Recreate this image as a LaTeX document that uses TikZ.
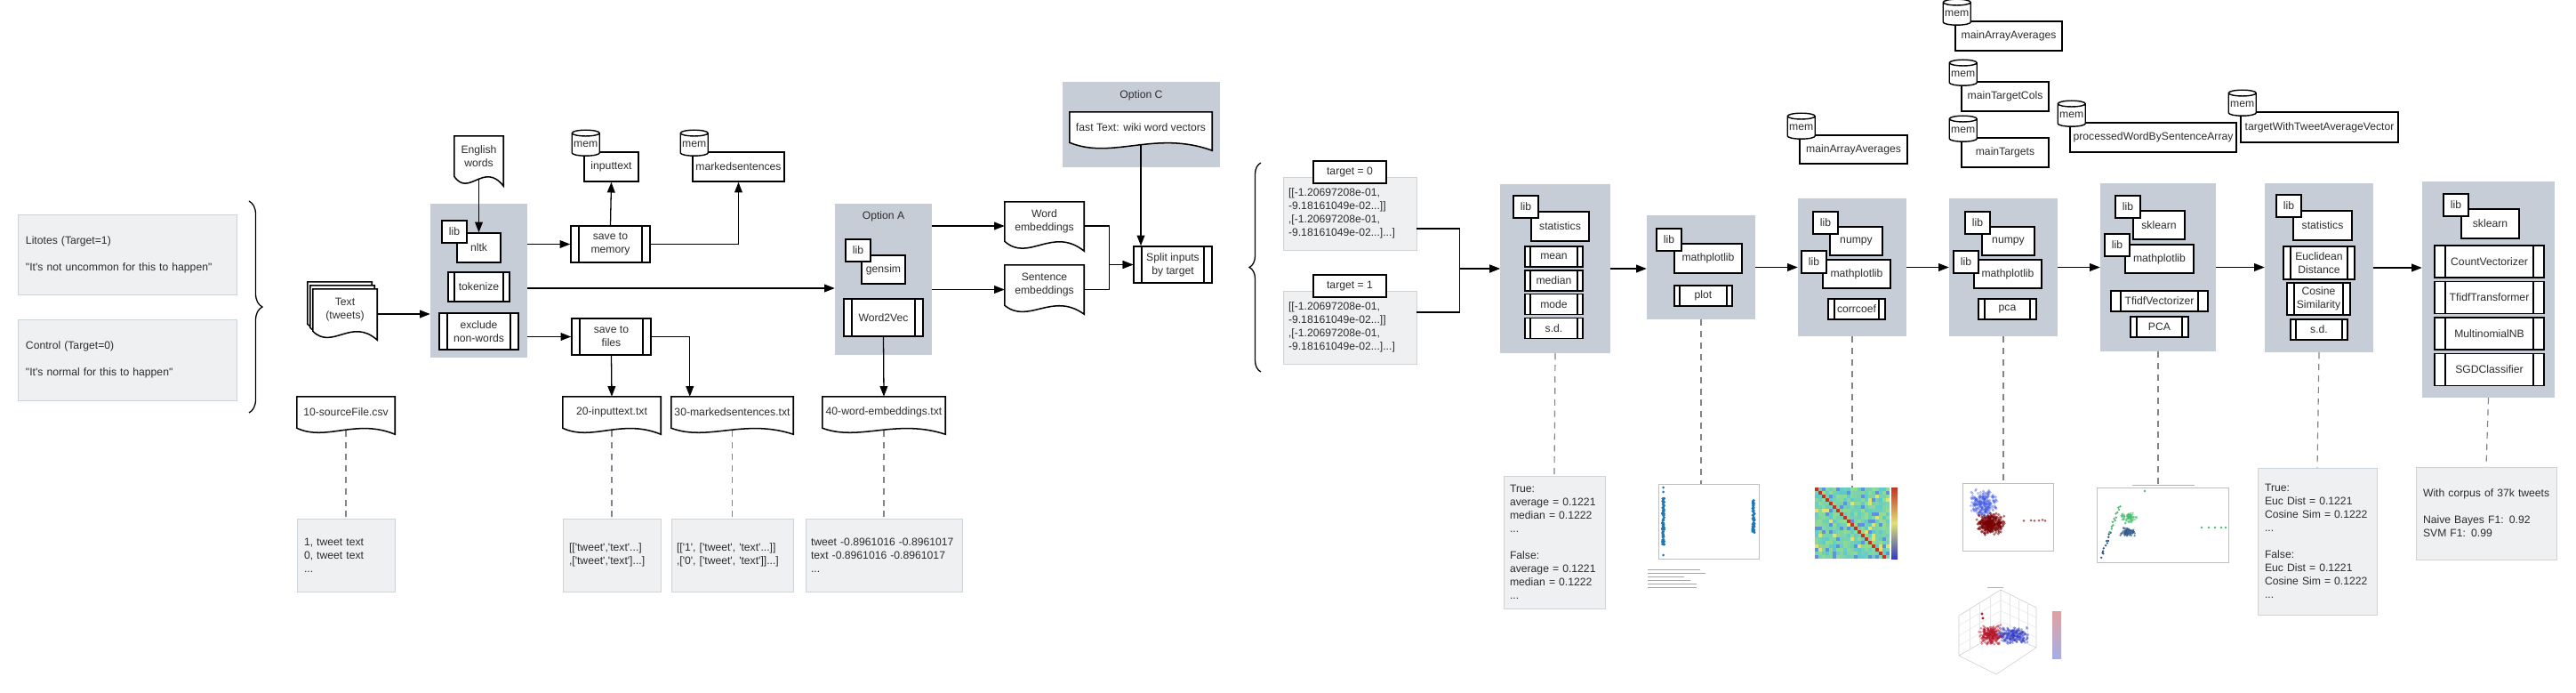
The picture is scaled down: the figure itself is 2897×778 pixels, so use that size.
\documentclass[tikz,border=0pt]{standalone}
\usepackage{fontspec}
\setmainfont{Liberation Sans}[Ligatures=TeXOff]
\usepackage{tikz}
\usetikzlibrary{shapes.geometric, arrows.meta, positioning, calc, decorations.pathreplacing}
\definecolor{grpgray}{RGB}{199,205,214}
\definecolor{notefill}{RGB}{239,240,242}
\definecolor{noteline}{RGB}{205,211,219}
\definecolor{txtgray}{RGB}{45,45,45}
\definecolor{dashgray}{RGB}{128,132,140}
\definecolor{ptblue}{RGB}{31,119,180}
\definecolor{ptblue2}{RGB}{55,80,225}
\definecolor{ptred}{RGB}{120,0,0}
\definecolor{ptred3}{RGB}{180,20,40}
\definecolor{ptblue3}{RGB}{50,60,200}
\definecolor{ptgreen}{RGB}{70,190,110}
\definecolor{ptsteel}{RGB}{50,90,140}
\definecolor{hmcyan}{RGB}{90,200,210}
\definecolor{hmgreen}{RGB}{150,220,140}
\definecolor{hmyellow}{RGB}{225,225,110}
\definecolor{hmblue}{RGB}{95,145,225}
\definecolor{hmred}{RGB}{200,50,30}
\definecolor{cbred}{RGB}{225,160,160}
\definecolor{cbblue}{RGB}{165,175,230}
\newcommand{\diafont}{\fontsize{10.4pt}{12.8pt}\selectfont}
% document outline with a wavy bottom below the node
\newcommand{\docedge}[2]{%
  \fill[white] (#1.south west) -- (#1.south east) -- ($(#1.south east)+(0,#2)$)
    .. controls ($(#1.south west)!0.6!(#1.south east)+(0,-1.6*#2)$) and ($(#1.south west)!0.3!(#1.south east)+(0,2.2*#2)$) .. (#1.south west) -- cycle;
  \draw[docline] (#1.south west) -- (#1.north west) -- (#1.north east) -- ($(#1.south east)+(0,#2)$)
    .. controls ($(#1.south west)!0.6!(#1.south east)+(0,-1.6*#2)$) and ($(#1.south west)!0.3!(#1.south east)+(0,2.2*#2)$) .. cycle;
}

\begin{document}
\begin{tikzpicture}[x=0.03cm, y=-0.03cm,
    every node/.style={font=\diafont, text=txtgray, inner sep=0pt},
    sz/.style 2 args={minimum width=#1*0.03cm, minimum height=#2*0.03cm},
    grp/.style={rectangle, fill=grpgray},
    box/.style={rectangle, draw=black, fill=white, line width=1.3pt, align=center},
    subproc/.style={box, path picture={
        \draw[line width=1.3pt] ([xshift=#1]path picture bounding box.north west) -- ([xshift=#1]path picture bounding box.south west)
            ([xshift=-#1]path picture bounding box.north east) -- ([xshift=-#1]path picture bounding box.south east);}},
    subproc/.default=0.27cm,
    libtag/.style={box, sz={28}{25}, anchor=north west},
    memtag/.style={cylinder, shape border rotate=90, aspect=0.25, draw=black, fill=white, line width=1.2pt, sz={31}{29}},
    docbox/.style={rectangle, fill=white, align=center},
    docline/.style={line width=1.3pt, draw=black},
    note/.style={rectangle, fill=notefill, draw=noteline, line width=0.8pt, align=left},
    imgframe/.style={rectangle, draw=black!25, fill=white, line width=0.6pt},
    arrow/.style={line width=1.1pt, -{Triangle[length=10pt, width=7.5pt]}},
    dashlink/.style={draw=dashgray, line width=1pt, dash pattern=on 6pt off 5pt},
    curly/.style={decorate, decoration={brace, amplitude=#1}, line width=1.1pt}
]
    \useasboundingbox (0,0) rectangle (2897,778);
    \fill[white] (0,0) rectangle (2897,778);
    \pgfmathsetseed{7}

    % Groups
    \node[grp, sz={109}{173}] (nltkgrp) at (538.5,315.5) {};
    \node[grp, sz={109}{170}] (optA) at (993.5,314) {};
    \node[grp, sz={177}{96}] (optC) at (1283.5,140) {};
    \node[grp, sz={124}{190}] (statsgrp) at (1749,302) {};
    \node[grp, sz={122}{117}] (plotgrp) at (1913,300.5) {};
    \node[grp, sz={122}{155}] (corrgrp) at (2083,300.5) {};
    \node[grp, sz={122}{155}] (pcagrp) at (2253,300.5) {};
    \node[grp, sz={130}{189}] (tfidfgrp) at (2427,300.5) {};
    \node[grp, sz={122}{190}] (stats2grp) at (2608,301) {};
    \node[grp, sz={149}{243}] (sklgrp) at (2798.5,325.5) {};
    \node (optAtitle) at (993.5,243) {Option A};
    \node (optCtitle) at (1283.5,107) {Option C};

    % Input
    \node[note, text width=6.84cm, inner xsep=0.27cm, minimum height=2.7cm] (litotes) at (143,286) {Litotes (Target=1)\\[12.8pt]"It's not uncommon for this to happen"};
    \node[note, text width=6.84cm, inner xsep=0.27cm, minimum height=2.73cm] (control) at (143,404.5) {Control (Target=0)\\[12.8pt]"It's normal for this to happen"};
    \draw[curly=0.45cm] (280,226) -- (280,464);

    \node[docbox, sz={72}{47}] (tweetsC) at (382,340.5) {};
    \docedge{tweetsC}{10}
    \node[docbox, sz={72}{47}] (tweetsB) at (385,344.5) {};
    \docedge{tweetsB}{10}
    \node[docbox, sz={72}{47}] (tweets) at (388,348.5) {Text\\(tweets)};
    \docedge{tweets}{10}
    \node[docbox, sz={110}{35}] (csv) at (389,463.5) {10-sourceFile.csv};
    \docedge{csv}{7}
    \node[note, text width=2.82cm, inner xsep=0.24cm, minimum height=2.46cm] (csvnote) at (389,624) {1, tweet text\\0, tweet text\\...};

    % nltk
    \node[docbox, sz={55}{45}] (english) at (538.5,175.5) {English\\words};
    \docedge{english}{11}
    \node[box, sz={49}{33}] (nltk) at (538.5,278.5) {nltk};
    \node[libtag] (nltklib) at ($(nltk.north west)+(-17,-14)$) {lib};
    \node[subproc=0.21cm, sz={69}{33}] (tokenize) at (538.5,322.5) {tokenize};
    \node[subproc, sz={89}{41}] (exclude) at (538.5,372.5) {exclude\\non-words};

    % Saving
    \node[subproc, sz={89}{41}] (savemem) at (686.5,274.5) {save to\\memory};
    \node[box, sz={61}{33}] (inputtext) at (687.5,187.5) {inputtext};
    \node[memtag] (inputmem) at ($(inputtext.north west)+(2.5,-7.5)$) {mem};
    \node[box, sz={103}{33}] (marked) at (830.5,187.5) {markedsentences};
    \node[memtag] (markedmem) at ($(marked.north west)+(2.5,-7.5)$) {mem};
    \node[subproc, sz={89}{41}] (savefiles) at (687.5,378.5) {save to\\files};
    \node[docbox, sz={110}{35}] (in20) at (688,463.5) {20-inputtext.txt};
    \docedge{in20}{7}
    \node[docbox, sz={137}{35}] (mk30) at (823.5,463.5) {30-markedsentences.txt};
    \docedge{mk30}{7}
    \node[docbox, sz={138}{35}] (emb40) at (994,463.5) {40-word-embeddings.txt};
    \docedge{emb40}{7}
    \node[note, text width=2.88cm, inner xsep=0.21cm, minimum height=2.46cm] (in20note) at (688,624) {[['tweet','text'...]\\,['tweet','text']...]};
    \node[note, text width=3.75cm, inner xsep=0.18cm, minimum height=2.46cm] (mk30note) at (823.5,624) {[['1', ['tweet', 'text'...]]\\,['0', ['tweet', 'text']]...]};
    \node[note, text width=4.92cm, inner xsep=0.18cm, minimum height=2.46cm] (emb40note) at (994,624) {tweet -0.8961016 -0.8961017\\text -0.8961016 -0.8961017\\...};

    % Option A / Option C
    \node[box, sz={49}{32}] (gensim) at (993.5,303) {gensim};
    \node[libtag] (gensimlib) at ($(gensim.north west)+(-18,-18)$) {lib};
    \node[subproc, sz={89}{42}] (word2vec) at (993.5,357) {Word2Vec};
    \node[docbox, sz={89}{44}] (wordemb) at (1174.5,249) {Word\\embeddings};
    \docedge{wordemb}{11}
    \node[docbox, sz={89}{45}] (sentemb) at (1174.5,320.5) {Sentence\\embeddings};
    \docedge{sentemb}{10}
    \node[subproc, sz={88}{41}] (split) at (1319,297.5) {Split inputs\\by target};
    \node[docbox, sz={160}{34}] (fasttext) at (1283,143) {fast Text: wiki word vectors};
    \docedge{fasttext}{9}

    % Split by target
    \draw[curly=0.39cm] (1418,418) -- (1418,183);
    \node[note, text width=4.14cm, inner xsep=0.18cm, minimum height=2.46cm] (t0note) at (1518,240) {[[-1.20697208e-01,\\-9.18161049e-02...]]\\,[-1.20697208e-01,\\-9.18161049e-02...]...]};
    \node[box, line width=1.1pt, sz={82}{25}] (t0lab) at (1518,193.5) {target = 0};
    \node[note, text width=4.14cm, inner xsep=0.18cm, minimum height=2.46cm] (t1note) at (1518,368) {[[-1.20697208e-01,\\-9.18161049e-02...]]\\,[-1.20697208e-01,\\-9.18161049e-02...]...]};
    \node[box, line width=1.1pt, sz={82}{25}] (t1lab) at (1518,321.5) {target = 1};

    % statistics
    \node[box, sz={65}{33}] (stats) at (1754.5,254.5) {statistics};
    \node[libtag] (statslib) at ($(stats.north west)+(-20,-18)$) {lib};
    \node[subproc=0.18cm, sz={65}{23}] (mean) at (1747.5,288.5) {mean};
    \node[subproc=0.18cm, sz={65}{23}, below=0.07cm of mean] (median) {median};
    \node[subproc=0.18cm, sz={65}{23}, below=0.07cm of median] (mode) {mode};
    \node[subproc=0.18cm, sz={65}{23}, below=0.07cm of mode] (sd) {s.d.};
    \node[note, text width=3.0cm, inner xsep=0.21cm, minimum height=4.47cm] (statsnote) at (1748,609.5) {True:\\average = 0.1221\\median = 0.1222\\...\\[12.8pt]False:\\average = 0.1221\\median = 0.1222\\...};

    % plot
    \node[box, sz={76}{33}] (mpl1) at (1921,290.5) {mathplotlib};
    \node[libtag] (mpl1lib) at ($(mpl1.north west)+(-20,-17)$) {lib};
    \node[subproc=0.18cm, sz={65}{23}] (plotfn) at (1915.5,332.5) {plot};
    \node[imgframe, sz={113}{84}] (plotimg) at (1921.5,586) {};
    \foreach \k in {1,...,90} \fill[ptblue] ({1870.5+1.2*rand},{586+26*rand}) circle (0.045cm);
    \foreach \k in {1,...,70} \fill[ptblue] ({1972+1.2*rand},{580+19*rand}) circle (0.045cm);
    \foreach \yy in {548,553,624} \fill[ptblue] (1870.5,\yy) circle (0.045cm);
    \foreach \yy in {640,644,...,660} \draw[black!35, line width=0.8pt] (1853,\yy) -- ++({30+35*rnd},0);

    % corrcoef
    \node[box, sz={59}{32}] (numpy1) at (2087.5,271) {numpy};
    \node[libtag] (numpy1lib) at ($(numpy1.north west)+(-19,-17)$) {lib};
    \node[box, sz={76}{32}] (mpl2) at (2088,308) {mathplotlib};
    \node[libtag] (mpl2lib) at ($(mpl2.north west)+(-24,-10)$) {lib};
    \node[subproc=0.21cm, sz={64}{23}] (corrcoef) at (2088,347.5) {corrcoef};
    \node[box, sz={121}{32}] (avg1) at (2084.5,168) {mainArrayAverages};
    \node[memtag] (avg1mem) at ($(avg1.north west)+(2.5,-7.5)$) {mem};
    \node[sz={84}{80}] (corrimg) at (2083,588) {};
    \foreach \i in {0,...,20} {
      \foreach \j in {0,...,19} {
        \pgfmathtruncatemacro\v{100*rnd}
        \pgfmathtruncatemacro\b{100*rnd}
        \ifnum\i=\j \def\hc{hmred}\else\ifnum\b<12 \def\hc{hmblue}\else\ifnum\b>93 \def\hc{hmyellow}\else\def\hc{hmcyan!\v!hmgreen}\fi\fi\fi
        \fill[\hc] ({2041+4*\i},{548+4*\j}) rectangle ++(4,4);
      }
    }
    \shade[top color=hmred, bottom color=hmyellow] (2127,548) rectangle (2134,588);
    \shade[top color=hmyellow, middle color=hmcyan, bottom color=ptblue3] (2127,588) rectangle (2134,628);

    % pca
    \node[box, sz={59}{32}] (numpy2) at (2258.5,271) {numpy};
    \node[libtag] (numpy2lib) at ($(numpy2.north west)+(-19,-17)$) {lib};
    \node[box, sz={76}{32}] (mpl3) at (2258,308) {mathplotlib};
    \node[libtag] (mpl3lib) at ($(mpl3.north west)+(-23,-10)$) {lib};
    \node[subproc=0.21cm, sz={65}{23}] (pcafn) at (2257.5,347.5) {pca};
    \node[box, sz={120}{33}] (avg2) at (2259,40.5) {mainArrayAverages};
    \node[memtag] (avg2mem) at ($(avg2.north west)+(2.5,-7.5)$) {mem};
    \node[box, sz={98}{33}] (tcols) at (2255,108.5) {mainTargetCols};
    \node[memtag] (tcolsmem) at ($(tcols.north west)+(2.5,-7.5)$) {mem};
    \node[box, sz={98}{33}] (targets) at (2255,171.5) {mainTargets};
    \node[memtag] (targetsmem) at ($(targets.north west)+(2.5,-7.5)$) {mem};
    \node[imgframe, sz={102}{76}] (pcaimg) at (2258,581) {};
    \foreach \k in {1,...,260} \fill[ptblue2, opacity=0.35] ({2231+8*(rand+rand)},{566+9*(rand+rand)}) circle (0.05cm);
    \foreach \k in {1,...,300} \fill[ptred, opacity=0.55] ({2239+8*(rand+rand)},{589+6.5*(rand+rand)}) circle (0.05cm);
    \foreach \xx in {2276,2284,2288,2293,2297,2300} \fill[ptred, opacity=0.6] (\xx,{585+rand}) circle (0.045cm);
    % pca in 3d
    \draw[black!20, line width=0.5pt] (2203,737) -- (2250,710) -- (2290,728) (2250,710) -- (2250,663)
        (2203,737) -- (2203,692) -- (2250,663) -- (2290,683) -- (2290,728) (2203,737) -- (2245,758) -- (2290,728);
    \foreach \t in {0.25,0.5,0.75} {
      \draw[black!10, line width=0.4pt] ($(2203,737)!\t!(2250,710)$) -- ($(2203,692)!\t!(2250,663)$);
      \draw[black!10, line width=0.4pt] ($(2250,710)!\t!(2290,728)$) -- ($(2250,663)!\t!(2290,683)$);
      \draw[black!10, line width=0.4pt] ($(2203,737)!\t!(2203,692)$) -- ($(2250,710)!\t!(2250,663)$) -- ($(2290,728)!\t!(2290,683)$);
    }
    \foreach \k in {1,...,260} \fill[ptred3, opacity=0.45] ({2239+7*(rand+rand)},{714+6*(rand+rand)}) circle (0.045cm);
    \foreach \k in {1,...,260} \fill[ptblue3, opacity=0.4] ({2264+9*(rand+rand)},{714+5*(rand+rand)}) circle (0.045cm);
    \fill[ptred3] (2229,690) circle (0.05cm) (2230,695) circle (0.05cm);
    \shade[top color=cbred, middle color=white, bottom color=cbblue] (2308,687) rectangle (2318,740);
    \draw[black!30, line width=0.6pt] (2235,660) -- (2253,660);

    % tfidf
    \node[box, sz={58}{32}] (skl1) at (2428,253) {sklearn};
    \node[libtag] (skl1lib) at ($(skl1.north west)+(-20,-17)$) {lib};
    \node[box, sz={77}{32}] (mpl4) at (2428.5,291) {mathplotlib};
    \node[libtag] (mpl4lib) at ($(mpl4.north west)+(-23,-12)$) {lib};
    \node[subproc=0.33cm, sz={109}{23}] (tfidfvec) at (2428.5,338.5) {TfidfVectorizer};
    \node[subproc=0.21cm, sz={65}{23}] (pcafn2) at (2428.5,367.5) {PCA};
    \node[box, sz={187}{33}] (procarr) at (2421.5,154.5) {processedWordBySentenceArray};
    \node[memtag] (procarrmem) at ($(procarr.north west)+(2.5,-7.5)$) {mem};
    \node[imgframe, sz={148}{84}] (tfidfimg) at (2432.5,590) {};
    \foreach \k in {1,...,80} \fill[ptgreen, opacity=0.6] ({2394+5*(rand+rand)},{582+3.5*(rand+rand)}) circle (0.04cm);
    \foreach \k in {1,...,70} \fill[ptsteel, opacity=0.7] ({2393+5*(rand+rand)},{598+2.5*(rand+rand)}) circle (0.04cm);
    \foreach \k in {0,...,24} {
      \ifnum\k<12 \def\sc{ptsteel}\else\def\sc{ptgreen}\fi
      \fill[\sc] ({2364+0.8*\k+1.5*rand},{626-2.4*\k+1.5*rand}) circle (0.04cm);
    }
    \foreach \xx in {2476,2484,2491,2498,2503} \fill[ptgreen] (\xx,593) circle (0.04cm);
    \fill[ptgreen] (2412,552) circle (0.04cm);
    \draw[black!30, line width=0.6pt] (2398,545) -- (2468,545);

    % statistics again
    \node[box, sz={177}{34}] (tweetavg) at (2608.5,143) {targetWithTweetAverageVector};
    \node[memtag] (tweetavgmem) at ($(tweetavg.north west)+(2.5,-7.5)$) {mem};
    \node[box, sz={66}{33}] (stats2) at (2612,253.5) {statistics};
    \node[libtag] (stats2lib) at ($(stats2.north west)+(-19,-18)$) {lib};
    \node[subproc=0.24cm, sz={80}{37}] (euclid) at (2608,295.5) {Euclidean\\Distance};
    \node[subproc=0.24cm, sz={71}{36}] (cosine) at (2607.5,336) {Cosine\\Similarity};
    \node[subproc=0.18cm, sz={64}{23}] (sd2) at (2608,370.5) {s.d.};
    \node[note, text width=3.54cm, inner xsep=0.24cm, minimum height=4.95cm] (stats2note) at (2606,608.5) {True:\\Euc Dist = 0.1221\\Cosine Sim = 0.1222\\...\\[12.8pt]False:\\Euc Dist = 0.1221\\Cosine Sim = 0.1222\\...};

    % sklearn
    \node[box, sz={65}{33}] (skl2) at (2800.5,251.5) {sklearn};
    \node[libtag] (skl2lib) at ($(skl2.north west)+(-20,-17)$) {lib};
    \node[subproc=0.36cm, sz={123}{36}] (countvec) at (2799.5,294) {CountVectorizer};
    \node[subproc=0.36cm, sz={123}{36}, below=0.09cm of countvec] (tfidftr) {TfidfTransformer};
    \node[subproc=0.36cm, sz={123}{36}, below=0.09cm of tfidftr] (multinb) {MultinomialNB};
    \node[subproc=0.36cm, sz={123}{36}, below=0.09cm of multinb] (sgd) {SGDClassifier};
    \node[note, text width=4.26cm, inner xsep=0.24cm, minimum height=3.12cm] (sklnote) at (2796,577) {\mbox{With corpus of 37k tweets}\\[12.8pt]Naive Bayes F1: 0.92\\SVM F1: 0.99};

    % Arrows
    \draw[arrow] ($(tweets.east)+(0,4.5)$) coordinate (tw) -- (tw -| nltkgrp.west);
    \draw[arrow] ($(english.south)+(0,4)$) -- (nltk.north);
    \draw[arrow] (savemem.west -| nltkgrp.east) -- (savemem.west);
    \draw[arrow] (savemem.north) -- (inputtext.south);
    \draw[arrow] (savemem.east) -| (marked.south);
    \draw[arrow] ($(nltkgrp.east)+(0,8.5)$) coordinate (nk) -- (nk -| optA.west);
    \draw[arrow] (savefiles.west -| nltkgrp.east) -- (savefiles.west);
    \draw[arrow] (savefiles.south) -- (in20.north);
    \draw[arrow] (savefiles.east) -| ($(mk30.north west)+(21,0)$);
    \draw[arrow] (word2vec.south) -- (emb40.north);
    \draw[arrow] ($(optA.east |- wordemb.west)+(0,5)$) -- ($(wordemb.west)+(0,5)$);
    \draw[arrow] ($(optA.east |- sentemb.west)+(0,5)$) -- ($(sentemb.west)+(0,5)$);
    \draw[arrow] ($(wordemb.east)+(0,5)$) -- ++(28,0) |- (split.west);
    \draw[arrow] ($(sentemb.east)+(0,5)$) -- ++(28,0) |- (split.west);
    \draw[arrow] ($(fasttext.south)+(0,3)$) -- (fasttext.south |- split.north);
    \draw[arrow] ($(t0note.east)+(0,17)$) -- ++(48,0) |- (statsgrp.west);
    \draw[arrow] ($(t1note.east)+(0,-17)$) -- ++(48,0) |- (statsgrp.west);
    \draw[arrow] (statsgrp.east) -- (statsgrp.east -| plotgrp.west);
    \draw[arrow] (plotgrp.east) -- (plotgrp.east -| corrgrp.west);
    \draw[arrow] (corrgrp.east) -- (corrgrp.east -| pcagrp.west);
    \draw[arrow] (pcagrp.east) -- (pcagrp.east -| tfidfgrp.west);
    \draw[arrow] (tfidfgrp.east) -- (tfidfgrp.east -| stats2grp.west);
    \draw[arrow] (stats2grp.east) -- (stats2grp.east -| sklgrp.west);

    % Outputs
    \draw[dashlink] ($(csv.south)+(0,3)$) -- (csvnote.north);
    \foreach \d/\n in {in20/in20note, mk30/mk30note, emb40/emb40note}
        \draw[dashlink] ($(\d.south)+(0,3)$) -- (\n.north);
    \draw[dashlink] (statsgrp.south) -- (statsnote.north);
    \draw[dashlink] (plotgrp.south) -- (plotgrp.south |- plotimg.north);
    \draw[dashlink] (corrgrp.south) -- (corrimg.north);
    \draw[dashlink] (pcagrp.south) -- (pcagrp.south |- pcaimg.north);
    \draw[dashlink] (tfidfgrp.south) -- (tfidfgrp.south |- tfidfimg.north);
    \draw[dashlink] (stats2grp.south) -- (stats2note.north);
    \draw[dashlink] (sklgrp.south) -- (sklnote.north);
\end{tikzpicture}
\end{document}
